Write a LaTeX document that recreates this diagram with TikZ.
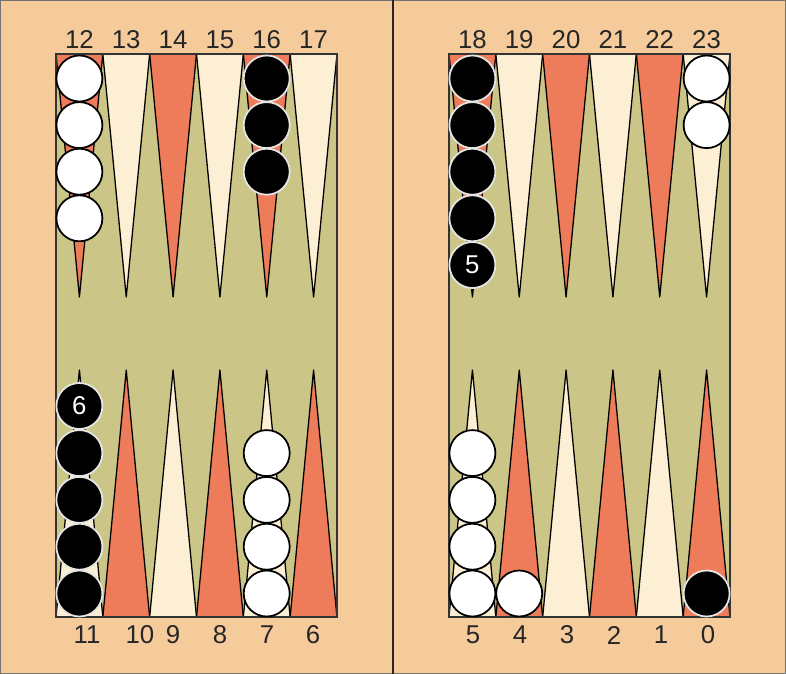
\documentclass[tikz,border=0pt]{standalone}
\usepackage{fontspec}
\setmainfont{Liberation Sans}
\definecolor{boardbg}{HTML}{F6CB9C}
\definecolor{felt}{HTML}{CBC687}
\definecolor{pointred}{HTML}{EE7B59}
\definecolor{pointcream}{HTML}{FDEFD3}
\tikzset{
  checker/.style={circle, minimum size=1.38cm, inner sep=0pt, line width=1.5pt,
    font=\fontsize{22}{24}\selectfont},
  white checker/.style={checker, draw=black, fill=white},
  black checker/.style={checker, draw=black!10, fill=black, text=white},
  pointnum/.style={font=\fontsize{22}{24}\selectfont, text=black!85, inner sep=0pt},
  spike/.style={draw=black, line width=1.1pt, line join=round}
}

\begin{document}
\begin{tikzpicture}[x=0.03cm, y=-0.03cm]
  \useasboundingbox (0,0) rectangle (786,674);
  \fill[boardbg] (0,0) rectangle (786,674);
  \draw[black!55, line width=0.6pt] (0.5,0.5) rectangle (785.5,673.5);
  \draw[black!85, line width=1.2pt] (393,0) -- (393,674);

  % the two halves of the board
  \foreach \bx in {56,449} {
    \fill[felt] (\bx,54) rectangle ++(281,563);
    \foreach \j in {0,...,5} {
      \pgfmathsetmacro\xl{\bx+\j*46.83}
      \pgfmathsetmacro\xc{\xl+23.42}
      \pgfmathsetmacro\xr{\xl+46.83}
      \ifodd\j
        \def\topcol{pointcream}\def\botcol{pointred}
      \else
        \def\topcol{pointred}\def\botcol{pointcream}
      \fi
      \filldraw[spike, fill=\topcol] (\xl,54) -- (\xc,297) -- (\xr,54);
      \filldraw[spike, fill=\botcol] (\xl,617) -- (\xc,370) -- (\xr,617);
    }
    \draw[black!80, line width=1pt] (\bx,54) rectangle ++(281,563);
  }

  % point numbers
  \foreach \n [count=\k from 0] in {12,...,17}
    \node[pointnum] (top\n) at (79.4+\k*46.83,40) {\n};
  \foreach \n [count=\k from 0] in {18,...,23}
    \node[pointnum] (top\n) at (472.4+\k*46.83,40) {\n};
  \foreach \px/\n in {87/11,140/10,173/9,220/8,267/7,313/6}
    \node[pointnum] (bot\n) at (\px,635) {\n};
  \foreach \n [count=\k from 0] in {5,4,3,2,1,0}
    \node[pointnum] (bot\n) at (473+\k*47,635) {\n};

  % checkers on the upper points
  \foreach \px/\cnt/\kind/\nm in {79.4/4/white/w12, 266.7/3/black/b16,
                                 472.4/4/black/b18, 706.6/2/white/w23}
    \foreach \k in {1,...,\cnt}
      \node[\kind\space checker] (\nm-\k) at (\px,{78.5+(\k-1)*46.6}) {};
  \node[black checker] (b18-5) at (472.4,265) {5};

  % checkers on the lower points
  \foreach \px/\cnt/\kind/\nm in {79.4/4/black/b11, 266.7/4/white/w7,
                                 472.4/4/white/w5, 519.2/1/white/w4,
                                 706.6/1/black/b0}
    \foreach \k in {1,...,\cnt}
      \node[\kind\space checker] (\nm-\k) at (\px,{593.5-(\k-1)*46.8}) {};
  \node[black checker] (b11-5) at (79.4,406) {6};
\end{tikzpicture}
\end{document}
